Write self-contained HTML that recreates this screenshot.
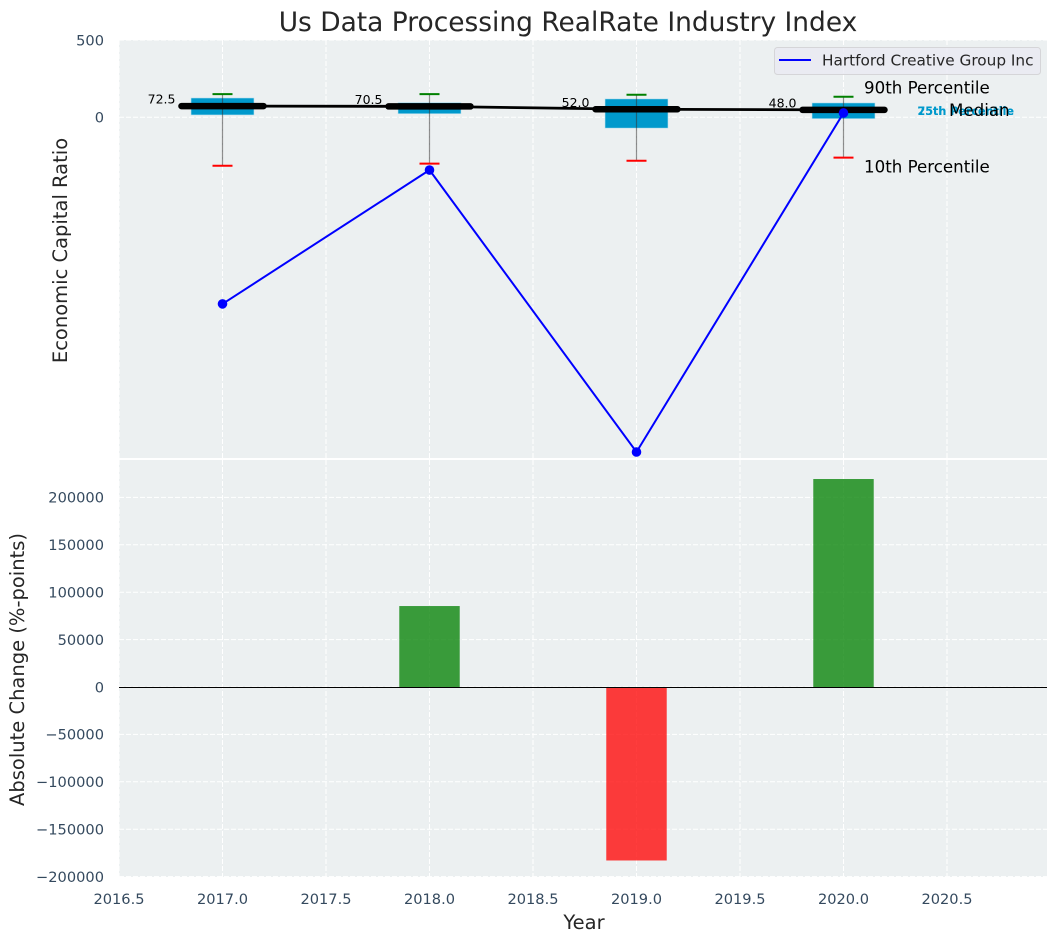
<!DOCTYPE html>
<html>
<head>
<meta charset="utf-8">
<title>Us Data Processing RealRate Industry Index</title>
<style>
html,body{margin:0;padding:0;background:#fff;}
svg{display:block;font-family:"DejaVu Sans","Liberation Sans",sans-serif;}
.tick{font-size:14.6px;fill:#34495e;}
.axis-title{font-size:19.5px;fill:#262626;}
</style>
</head>
<body>
<svg id="chart" width="1058" height="942" viewBox="0 0 1058 942">
  <rect x="119" y="40" width="928" height="419" fill="#ecf0f1"/>
  <rect x="119" y="460" width="928" height="417" fill="#ecf0f1"/>
  <g id="grid"></g>
  <g id="ticks"></g>
  <g id="bars"></g>
  <line x1="119" x2="1047" y1="459" y2="459" stroke="#ffffff" stroke-width="2"/>
  <g id="boxes"></g>
  <g id="series"></g>
  <g id="notes"></g>
  <g>
    <rect x="774.5" y="47.5" width="266" height="27" rx="3" fill="#eaeaf2" fill-opacity="0.8" stroke="#d5d5d8"/>
    <line x1="779" x2="811" y1="60" y2="60" stroke="#0000ff" stroke-width="2"/>
    <text x="822" y="65.5" font-size="15.3" fill="#262626">Hartford Creative Group Inc</text>
  </g>
  <text x="568" y="31" text-anchor="middle" font-size="26.45" fill="#262626">Us Data Processing RealRate Industry Index</text>
  <text class="axis-title" transform="translate(67 250.5) rotate(-90)" text-anchor="middle">Economic Capital Ratio</text>
  <text class="axis-title" transform="translate(24 669.5) rotate(-90)" text-anchor="middle">Absolute Change (%-points)</text>
  <text class="axis-title" x="584" y="929" text-anchor="middle">Year</text>
</svg>
<script>
const years = [2017, 2018, 2019, 2020];
const p90 = [150, 150, 146, 133];
const p75 = [125, 95, 119, 93];
const median = [72.5, 70.5, 52.0, 48.0];
const p25 = [15, 23, -70, -9];
const p10 = [-313, -300, -281, -261];
const company = [-1207, -341, -2165, 28];
const changeYears = [2018, 2019, 2020];
const changes = [85400, -183000, 219400];
const xTicks = [2016.5, 2017, 2017.5, 2018, 2018.5, 2019, 2019.5, 2020, 2020.5];
const topTicks = [500, 0];
const bottomTicks = [200000, 150000, 100000, 50000, 0, -50000, -100000, -150000, -200000];

const NS = 'http://www.w3.org/2000/svg';
const x = v => 119 + (v - 2016.5) * 207;
const yTop = v => 117.3 - v * 0.1546;
const yBottom = v => 687 - v * 0.000948;
const PX_LEFT = 119, PX_RIGHT = 1047;

function mk(tag, parent, attrs, txt) {
  const el = document.createElementNS(NS, tag);
  for (const k in attrs) el.setAttribute(k, attrs[k]);
  if (txt !== undefined) el.textContent = txt;
  document.getElementById(parent).appendChild(el);
  return el;
}
const gridStyle = {stroke: '#ffffff', 'stroke-width': 1, 'stroke-dasharray': '5 2'};

xTicks.forEach(t => {
  const a = mk('line', 'grid', Object.assign({x1: x(t), x2: x(t), y1: 40, y2: 459}, gridStyle));
  
  
  const b = mk('line', 'grid', Object.assign({x1: x(t), x2: x(t), y1: 460, y2: 877}, gridStyle));
  
  
  const l = mk('text', 'ticks', {class: 'tick', x: x(t), y: 904, 'text-anchor': 'middle'}, t.toFixed(1));
  
  
});
topTicks.forEach(t => {
  const g = mk('line', 'grid', Object.assign({x1: PX_LEFT, x2: PX_RIGHT, y1: yTop(t), y2: yTop(t)}, gridStyle));
  
  
  const l = mk('text', 'ticks', {class: 'tick', x: 104, y: yTop(t) + 5.3, 'text-anchor': 'end'}, String(t));
  
  
});
bottomTicks.forEach(t => {
  const g = mk('line', 'grid', Object.assign({x1: PX_LEFT, x2: PX_RIGHT, y1: yBottom(t), y2: yBottom(t)}, gridStyle));
  
  
  const l = mk('text', 'ticks', {class: 'tick', x: 104, y: yBottom(t) + 5.3, 'text-anchor': 'end'}, String(t).replace('-', '\u2212'));
  
  
});

changes.forEach((v, i) => {
  const y0 = yBottom(0), y1 = yBottom(v);
  const r = mk('rect', 'bars', {
    x: x(changeYears[i] - 0.146), width: x(0.292 + 2016.5) - 119,
    y: Math.min(y0, y1), height: Math.abs(y1 - y0),
    fill: v >= 0 ? '#008000' : '#ff0000', 'fill-opacity': 0.76
  });
  
  
});
const zero = mk('line', 'bars', {x1: PX_LEFT, x2: PX_RIGHT, y1: yBottom(0) + 0.5, y2: yBottom(0) + 0.5, stroke: '#000000', 'stroke-width': 1.1});



years.forEach((yr, i) => {
  const cx = x(yr);
  const box = mk('rect', 'boxes', {
    x: cx - 31.5, width: 63, y: yTop(p75[i]), height: yTop(p25[i]) - yTop(p75[i]),
    fill: '#0099cc', stroke: '#bfe3ef', 'stroke-width': 0.6
  });
  
  
  const w = mk('line', 'boxes', {x1: cx, x2: cx, y1: yTop(p90[i]), y2: yTop(p10[i]), stroke: '#333333', 'stroke-opacity': 0.55, 'stroke-width': 1.2});
  
  
  const capTop = mk('line', 'boxes', {x1: cx - 10, x2: cx + 10, y1: yTop(p90[i]), y2: yTop(p90[i]), stroke: '#008000', 'stroke-width': 2});
  
  
  const capBottom = mk('line', 'boxes', {x1: cx - 10, x2: cx + 10, y1: yTop(p10[i]), y2: yTop(p10[i]), stroke: '#ff0000', 'stroke-width': 2});
  
  
});

const medianTrend = mk('polyline', 'boxes', {
  points: years.map((yr, i) => x(yr) + ',' + yTop(median[i])).join(' '),
  fill: 'none', stroke: '#000000', 'stroke-width': 2.8
});



years.forEach((yr, i) => {
  const cx = x(yr), my = yTop(median[i]);
  const m = mk('line', 'boxes', {x1: cx - 41, x2: cx + 41, y1: my, y2: my, stroke: '#000000', 'stroke-width': 6.5, 'stroke-linecap': 'round'});
  
  
  const t = mk('text', 'boxes', {x: cx - 47, y: my - 2.5, 'text-anchor': 'end', 'font-size': 12.5, fill: '#000000'}, median[i].toFixed(1));
  
  
});

const companyLine = mk('polyline', 'series', {
  points: years.map((yr, i) => x(yr) + ',' + yTop(company[i])).join(' '),
  fill: 'none', stroke: '#0000ff', 'stroke-width': 2
});


years.forEach((yr, i) => {
  const d = mk('circle', 'series', {cx: x(yr), cy: yTop(company[i]), r: 4.8, fill: '#0000ff'});
  
  
});

const last = years.length - 1;
const lx = x(years[last]);
const n90 = mk('text', 'notes', {x: lx + 20.5, y: yTop(p90[last]) - 3, 'font-size': 16.67, fill: '#000000'}, '90th Percentile');


const n75 = mk('text', 'notes', {x: lx + 74, y: 115, 'font-size': 11.15, 'font-weight': 700, fill: '#0099cc'}, '75th Percentile');


const n25 = mk('text', 'notes', {x: lx + 74, y: 115, 'font-size': 11.15, 'font-weight': 700, fill: '#0099cc'}, '25th Percentile');


const nMed = mk('text', 'notes', {x: lx + 105.5, y: yTop(median[last]) + 6, 'font-size': 16.67, fill: '#000000'}, 'Median');


const n10 = mk('text', 'notes', {x: lx + 20.5, y: yTop(p10[last]) + 15, 'font-size': 16.67, fill: '#000000'}, '10th Percentile');


</script>
</body>
</html>
